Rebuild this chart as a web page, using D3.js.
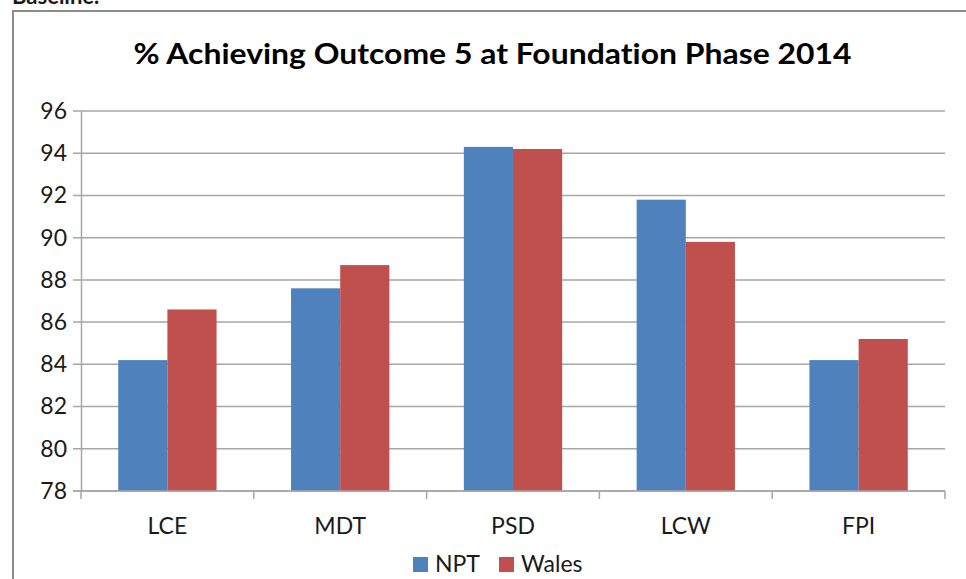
<!DOCTYPE html>
<html>
<head>
<meta charset="utf-8">
<script src="https://cdn.jsdelivr.net/npm/d3@7"></script>
<style>
  body { margin: 0; background: #fff; }
  svg { display: block; }
  text { font-family: Lato, "Open Sans", sans-serif; fill: #1a1a1a;
         font-variant-ligatures: none; font-feature-settings: "liga" 0, "clig" 0; }
</style>
</head>
<body>
<script>
var width = 966, height = 579;
var margin = {top: 111, right: 21, bottom: 88, left: 81};

// data
var categories = ["LCE", "MDT", "PSD", "LCW", "FPI"];
var seriesNames = ["NPT", "Wales"];
var nptValues = [84.2, 87.6, 94.3, 91.8, 84.2];
var walesValues = [86.6, 88.7, 94.2, 89.8, 85.2];
var yTicks = [78, 80, 82, 84, 86, 88, 90, 92, 94, 96];
var colors = ["#4f81bd", "#c0504d"];

var svg = d3.select("body").append("svg")
    .attr("width", width)
    .attr("height", height);

// text above the chart box, cut off by the top edge as in the source
svg.append("text")
    .attr("x", 12)
    .attr("y", 4)
    .style("font-size", "22px")
    .style("font-weight", "bold")
    .text("Baseline.");

// chart border
svg.append("rect")
    .attr("x", 13)
    .attr("y", 11)
    .attr("width", 1000)
    .attr("height", 700)
    .attr("fill", "none")
    .attr("stroke", "#8c8c8c")
    .attr("stroke-width", 2);

svg.append("text")
    .attr("x", 492.5)
    .attr("y", 64)
    .attr("text-anchor", "middle")
    .attr("textLength", 718)
    .attr("lengthAdjust", "spacingAndGlyphs")
    .style("font-size", "28px")
    .style("font-weight", "bold")
    .style("letter-spacing", "0.01px")
    .style("fill", "#000")
    .text("% Achieving Outcome 5 at Foundation Phase 2014");

var w = width - margin.left - margin.right;
var h = height - margin.top - margin.bottom;

var chart = svg.append("g")
    .attr("transform", "translate(" + margin.left + "," + margin.top + ")");

var y = d3.scaleLinear().domain([78, 96]).range([h, 0]);

var x0 = d3.scaleBand()
    .domain(categories)
    .range([0, w])
    .paddingInner(0.431)
    .paddingOuter(0.2155);

var x1 = d3.scaleBand()
    .domain(seriesNames)
    .range([0, x0.bandwidth()]);

// gridlines
chart.selectAll(".grid")
    .data(yTicks)
  .enter().append("line")
    .attr("x1", -8)
    .attr("x2", w)
    .attr("y1", function(d) { return y(d); })
    .attr("y2", function(d) { return y(d); })
    .attr("stroke", "#a6a6a6")
    .attr("stroke-width", 1.5);

// y axis
var yAxis = d3.axisLeft(y).tickValues(yTicks).tickSize(0).tickPadding(14);
var gy = chart.append("g").call(yAxis);
gy.select(".domain").attr("stroke", "#a6a6a6").attr("stroke-width", 1.5);
gy.selectAll("text")
    .style("font-size", "23px")
    .style("font-family", "Lato, sans-serif")
    .attr("fill", "#1a1a1a");

// bars
var rows = categories.map(function(c, i) {
  return {cat: c, vals: [nptValues[i], walesValues[i]]};
});

var groups = chart.selectAll(".grp")
    .data(rows)
  .enter().append("g")
    .attr("transform", function(d) { return "translate(" + x0(d.cat) + ",0)"; });

groups.selectAll("rect")
    .data(function(d) { return d.vals.map(function(v, j) { return {name: seriesNames[j], v: v, j: j}; }); })
  .enter().append("rect")
    .attr("x", function(d) { return x1(d.name); })
    .attr("y", function(d) { return y(d.v); })
    .attr("width", x1.bandwidth())
    .attr("height", function(d) { return h - y(d.v); })
    .attr("fill", function(d) { return colors[d.j]; });

// x axis with ticks between categories
var xEdge = d3.scaleLinear().domain([0, categories.length]).range([0, w]);
var gx = chart.append("g").attr("transform", "translate(0," + h + ")");
gx.append("line")
    .attr("x1", -8).attr("x2", w)
    .attr("stroke", "#a6a6a6").attr("stroke-width", 1.5);
gx.selectAll(".tk")
    .data(d3.range(categories.length + 1))
  .enter().append("line")
    .attr("x1", function(d) { return xEdge(d); })
    .attr("x2", function(d) { return xEdge(d); })
    .attr("y1", 0).attr("y2", 8)
    .attr("stroke", "#a6a6a6").attr("stroke-width", 1.5);
gx.selectAll(".lbl")
    .data(categories)
  .enter().append("text")
    .attr("x", function(d) { return x0(d) + x0.bandwidth() / 2; })
    .attr("y", 43)
    .attr("text-anchor", "middle")
    .style("font-size", "23px")
    .text(function(d) { return d; });

// legend
var legend = svg.append("g").attr("transform", "translate(413,557)");
var legX = [0, 86];
seriesNames.forEach(function(name, i) {
  legend.append("rect")
      .attr("x", legX[i]).attr("y", 0)
      .attr("width", 15).attr("height", 15)
      .attr("fill", colors[i]);
  legend.append("text")
      .attr("x", legX[i] + 22).attr("y", 15)
      .style("font-size", "23px")
      .text(name);
});
</script>
</body>
</html>
